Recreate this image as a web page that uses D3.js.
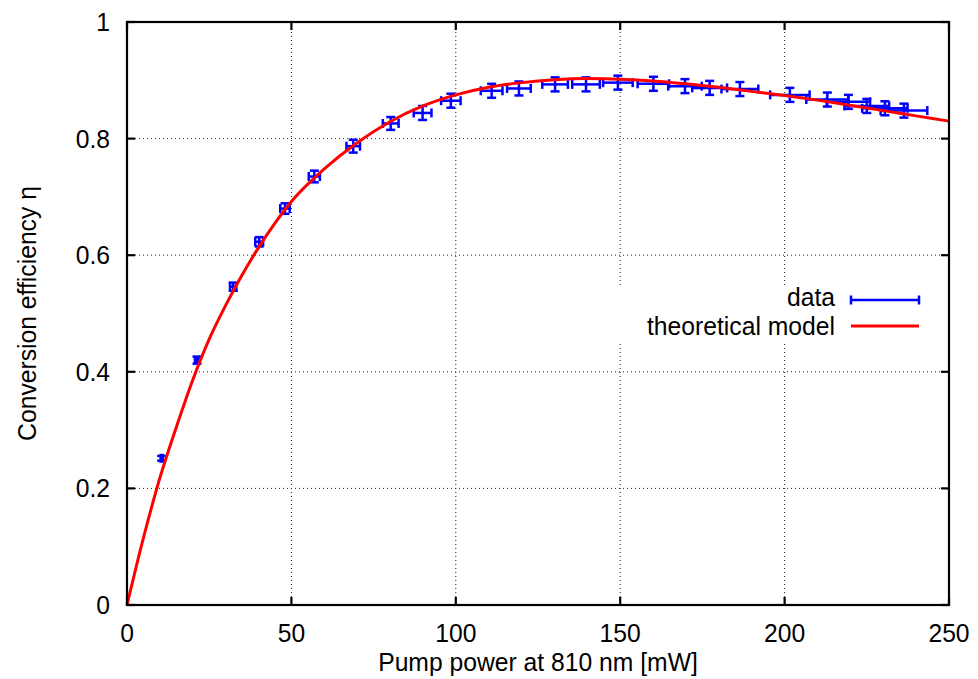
<!doctype html>
<html lang="en">
<head>
  <meta charset="utf-8">
  <title>Conversion efficiency</title>
  <script src="https://d3js.org/d3.v7.min.js"></script>
  <style>
    body { margin: 0; background: #fff; }
    text { font-family: "Liberation Sans", Arial, sans-serif; fill: #000; }
  </style>
</head>
<body>
  <div id="chart"></div>
  <script type="text/javascript">

    // canvas size
    var width = 978, height = 679;
    var margin = {top: 22, right: 29, bottom: 74, left: 127};

    // measured points: pump power [mW], efficiency, and their errors
    var power    = [10.55, 21.3, 32.3, 40.2, 48.05, 56.97, 68.8, 80.2, 89.9, 98.5,
                    110.9, 119.2, 130.2, 139.6, 149.3, 160.1, 169.7, 177.2, 186.4, 201.6,
                    213.0, 219.4, 225.0, 230.5, 236.3];
    var eta      = [0.2516, 0.420, 0.546, 0.623, 0.680, 0.735, 0.787, 0.826, 0.844, 0.865,
                    0.882, 0.886, 0.893, 0.893, 0.896, 0.894, 0.890, 0.887, 0.885, 0.875,
                    0.867, 0.863, 0.856, 0.852, 0.848];
    var powerErr = [0.32, 0.64, 0.97, 1.2, 1.44, 1.7, 2.06, 2.4, 2.7, 2.96,
                    3.3, 3.6, 3.9, 4.2, 4.5, 4.8, 5.1, 5.3, 5.6, 6.0,
                    6.4, 6.6, 6.8, 6.9, 7.1];
    var etaErr   = [0.004, 0.006, 0.007, 0.008, 0.009, 0.010, 0.011, 0.011, 0.012, 0.012,
                    0.012, 0.012, 0.012, 0.012, 0.012, 0.012, 0.012, 0.012, 0.012, 0.012,
                    0.012, 0.012, 0.012, 0.012, 0.012];

    // theoretical model, sampled
    var modelP   = [0, 5, 10, 15, 20, 25, 30, 35, 40, 45, 50, 60, 70, 80, 90, 100,
                    110, 120, 130, 140, 150, 160, 170, 180, 190, 200, 210, 220, 230, 240, 250];
    var modelEta = [0, 0.115, 0.218, 0.305, 0.386, 0.456, 0.514, 0.566, 0.613, 0.655, 0.692,
                    0.748, 0.793, 0.829, 0.856, 0.875, 0.888, 0.896, 0.901, 0.903, 0.902,
                    0.899, 0.894, 0.888, 0.881, 0.874, 0.866, 0.857, 0.848, 0.839, 0.830];

    var xTicks = [0, 50, 100, 150, 200, 250];
    var yTicks = [0, 0.2, 0.4, 0.6, 0.8, 1];

    var legendLabels = ['data', 'theoretical model'];
    var blue = '#0000ff', red = '#ff0000';

    var svg = d3.select('#chart')
                .append('svg')
                .attr('width', width)
                .attr('height', height);

    var x = d3.scaleLinear().domain([0, 250]).range([margin.left, width - margin.right]);
    var y = d3.scaleLinear().domain([0, 1]).range([height - margin.bottom, margin.top]);

    // text is a little narrow and tall in the original
    function label(g, tx, ty, str, anchor, rot) {
      return g.append('text')
              .attr('transform', 'translate(' + tx + ',' + ty + ')' + (rot ? ' rotate(' + rot + ')' : '') + ' scale(0.95,1)')
              .attr('text-anchor', anchor)
              .style('font-size', '26px')
              .text(str);
    }

    //dotted grid
    var grid = svg.append('g');
    grid.selectAll('.gx')
        .data(xTicks.slice(1, -1))
        .enter().append('line')
        .attr('x1', function(d) { return x(d); })
        .attr('x2', function(d) { return x(d); })
        .attr('y1', y(0)).attr('y2', y(1));
    grid.selectAll('.gy')
        .data(yTicks.slice(1, -1))
        .enter().append('line')
        .attr('x1', x(0)).attr('x2', x(250))
        .attr('y1', function(d) { return y(d); })
        .attr('y2', function(d) { return y(d); });
    grid.selectAll('line')
        .attr('stroke', '#222')
        .attr('stroke-width', 1)
        .attr('stroke-dasharray', '1,3');

    // key box blanks the grid behind it
    svg.append('rect')
       .attr('x', 606).attr('y', 286)
       .attr('width', 328).attr('height', 56)
       .attr('fill', '#fff');

    // error bars
    var cap = 4.5;
    var pts = svg.selectAll('.pt')
                 .data(power.map(function(p, i) {
                   return {p: p, e: eta[i], pe: powerErr[i], ee: etaErr[i]};
                 }))
                 .enter().append('g')
                 .attr('class', 'pt')
                 .attr('stroke', blue)
                 .attr('stroke-width', 2.5);
    pts.append('line')
       .attr('x1', function(d) { return x(d.p - d.pe); })
       .attr('x2', function(d) { return x(d.p + d.pe); })
       .attr('y1', function(d) { return y(d.e); })
       .attr('y2', function(d) { return y(d.e); });
    pts.append('line')
       .attr('x1', function(d) { return x(d.p); })
       .attr('x2', function(d) { return x(d.p); })
       .attr('y1', function(d) { return y(d.e - d.ee); })
       .attr('y2', function(d) { return y(d.e + d.ee); });
    [-1, 1].forEach(function(s) {
      pts.append('line')
         .attr('x1', function(d) { return x(d.p + s * d.pe); })
         .attr('x2', function(d) { return x(d.p + s * d.pe); })
         .attr('y1', function(d) { return y(d.e) - cap; })
         .attr('y2', function(d) { return y(d.e) + cap; });
      pts.append('line')
         .attr('x1', function(d) { return x(d.p) - cap; })
         .attr('x2', function(d) { return x(d.p) + cap; })
         .attr('y1', function(d) { return y(d.e + s * d.ee); })
         .attr('y2', function(d) { return y(d.e + s * d.ee); });
    });

    // model curve
    var line = d3.line()
                 .x(function(d, i) { return x(modelP[i]); })
                 .y(function(d) { return y(d); })
                 .curve(d3.curveMonotoneX);
    svg.append('path')
       .datum(modelEta)
       .attr('d', line)
       .attr('fill', 'none')
       .attr('stroke', red)
       .attr('stroke-width', 3);

    // frame + inward ticks
    var axes = svg.append('g').attr('stroke', '#000').attr('stroke-width', 2.2);
    axes.selectAll('.tx')
        .data(xTicks)
        .enter().append('line')
        .attr('class', 'tx')
        .attr('x1', function(d) { return x(d); })
        .attr('x2', function(d) { return x(d); })
        .attr('y1', y(0)).attr('y2', y(0) - 8);
    axes.selectAll('.tx2')
        .data(xTicks)
        .enter().append('line')
        .attr('class', 'tx2')
        .attr('x1', function(d) { return x(d); })
        .attr('x2', function(d) { return x(d); })
        .attr('y1', y(1)).attr('y2', y(1) + 8);
    axes.selectAll('.ty')
        .data(yTicks)
        .enter().append('line')
        .attr('class', 'ty')
        .attr('x1', x(0)).attr('x2', x(0) + 8)
        .attr('y1', function(d) { return y(d); })
        .attr('y2', function(d) { return y(d); });
    axes.selectAll('.ty2')
        .data(yTicks)
        .enter().append('line')
        .attr('class', 'ty2')
        .attr('x1', x(250)).attr('x2', x(250) - 8)
        .attr('y1', function(d) { return y(d); })
        .attr('y2', function(d) { return y(d); });
    axes.append('rect')
        .attr('x', x(0)).attr('y', y(1))
        .attr('width', x(250) - x(0)).attr('height', y(0) - y(1))
        .attr('fill', 'none');

    // tick labels
    var txt = svg.append('g');
    xTicks.forEach(function(d) { label(txt, x(d), y(0) + 37, String(d), 'middle'); });
    yTicks.forEach(function(d) { label(txt, x(0) - 17, y(d) + 9, String(d), 'end'); });

    // axis titles
    label(txt, (x(0) + x(250)) / 2, 671, 'Pump power at 810 nm [mW]', 'middle');
    label(txt, 36, (y(0) + y(1)) / 2, 'Conversion efficiency \u03b7', 'middle', -90);

    // key
    var key = svg.append('g');
    label(key, 835, 306, legendLabels[0], 'end');
    label(key, 835, 335, legendLabels[1], 'end');
    var k = key.append('g').attr('stroke', blue).attr('stroke-width', 2.5);
    k.append('line').attr('x1', 851).attr('x2', 919).attr('y1', 300).attr('y2', 300);
    k.append('line').attr('x1', 851).attr('x2', 851).attr('y1', 300 - cap).attr('y2', 300 + cap);
    k.append('line').attr('x1', 919).attr('x2', 919).attr('y1', 300 - cap).attr('y2', 300 + cap);
    key.append('line')
       .attr('x1', 851).attr('x2', 919).attr('y1', 326).attr('y2', 326)
       .attr('stroke', red).attr('stroke-width', 3);

  </script>
</body>
</html>
